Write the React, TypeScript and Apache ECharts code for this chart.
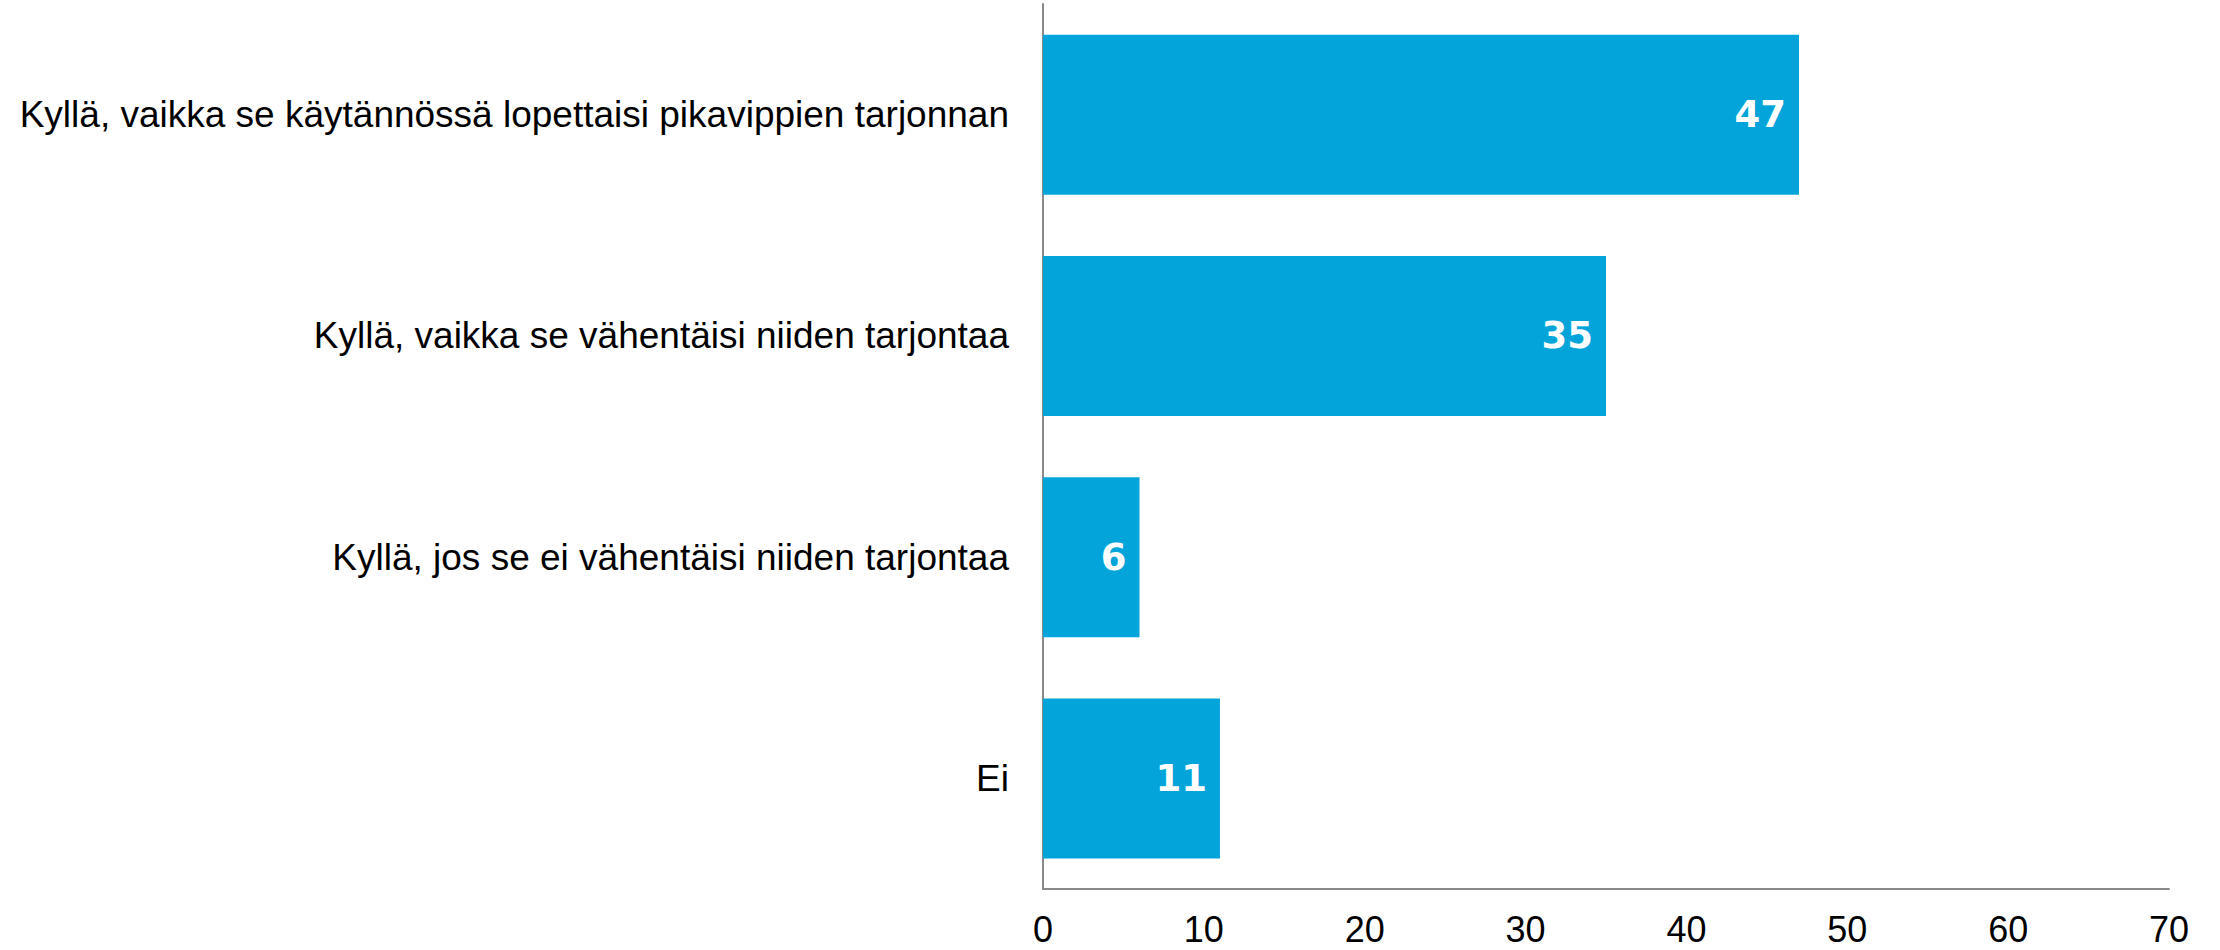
import React, { useEffect, useRef } from "react";
import * as echarts from "echarts";

const categories = [
  "Kyllä, vaikka se käytännössä lopettaisi pikavippien tarjonnan",
  "Kyllä, vaikka se vähentäisi niiden tarjontaa",
  "Kyllä, jos se ei vähentäisi niiden tarjontaa",
  "Ei",
];
const values = [47, 35, 6, 11];
const xMin = 0;
const xMax = 70;
const xInterval = 10;

const FONT = "Arial, 'Liberation Sans', sans-serif";

export default function App() {
  const ref = useRef<HTMLDivElement>(null);
  useEffect(() => {
    if (!ref.current) return;
    const chart = echarts.init(ref.current, undefined, { renderer: "svg" });
    chart.setOption({
      animation: false,
      backgroundColor: "#ffffff",
      grid: { left: 1043, right: 51, top: 4, bottom: 61, containLabel: false },
      xAxis: {
        type: "value",
        min: xMin,
        max: xMax,
        interval: xInterval,
        axisLine: { show: true, lineStyle: { color: "#898989", width: 2 } },
        axisTick: { show: false },
        splitLine: { show: false },
        axisLabel: { color: "#000", fontSize: 36, fontFamily: FONT, margin: 22 },
      },
      yAxis: {
        type: "category",
        data: categories,
        inverse: true,
        axisLine: { show: true, lineStyle: { color: "#898989", width: 2 } },
        axisTick: { show: false },
        axisLabel: { color: "#000", fontSize: 37, fontFamily: FONT, margin: 34 },
      },
      series: [
        {
          type: "bar",
          data: values,
          barWidth: 160,
          itemStyle: { color: "#03A4DA" },
          label: {
            show: true,
            position: "insideRight",
            distance: 13,
            color: "#fff",
            fontWeight: "bold",
            fontSize: 37,
            fontFamily: "'DejaVu Sans', sans-serif",
          },
        },
      ],
    });
    return () => chart.dispose();
  }, []);
  return (
    <div
      ref={ref}
      style={{ position: "fixed", left: 0, top: 0, width: 2220, height: 950 }}
    />
  );
}
